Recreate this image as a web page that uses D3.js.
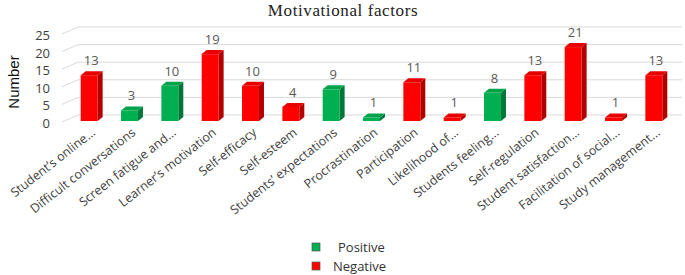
<!DOCTYPE html>
<meta charset="utf-8">
<script src="https://d3js.org/d3.v7.min.js"></script>
<style>
  body { margin: 0; background: #fff; }
  text { font-family: "Open Sans", sans-serif; }
</style>
<div id="chart"></div>
<script>

// data
var categories = ["Student\u2019s online...", "Difficult conversations", "Screen fatigue and...",
  "Learner\u2019s motivation", "Self-efficacy", "Self-esteem", "Students\u2019 expectations",
  "Procrastination", "Participation", "Likelihood of...", "Students feeling...",
  "Self-regulation", "Student satisfaction...", "Facilitation of social...", "Study management..."];
var values = [13, 3, 10, 19, 10, 4, 9, 1, 11, 1, 8, 13, 21, 1, 13];
var kinds = ["Negative", "Positive", "Positive", "Negative", "Negative", "Negative", "Positive",
  "Positive", "Negative", "Negative", "Positive", "Negative", "Negative", "Negative", "Negative"];
var yTicks = [0, 5, 10, 15, 20, 25];
var legendItems = ["Positive", "Negative"];

var W = 685, H = 275;
var depthX = 5, depthY = -4;

var svg = d3.select("#chart").append("svg")
  .attr("width", W).attr("height", H);

var colors = {
  Positive: {front: "#00b050", side: "#00773a", top: "#00a24a"},
  Negative: {front: "#ff0000", side: "#b00000", top: "#e60000"}
};

var x = d3.scaleBand()
  .domain(categories)
  .range([69, 674])
  .paddingInner(0.58)
  .paddingOuter(0.29);

var y = d3.scaleLinear()
  .domain([0, 25])
  .range([121, 33]);

// title
svg.append("text")
  .attr("x", 343).attr("y", 16)
  .attr("text-anchor", "middle")
  .style("font-family", "'Liberation Serif', serif")
  .style("font-size", "17px")
  .style("letter-spacing", "0.6px")
  .attr("fill", "#222")
  .text("Motivational  factors");

// back wall gridlines with perspective stub
var grid = svg.append("g");
yTicks.forEach(function(t) {
  grid.append("path")
    .attr("d", "M62," + (y(t) + 1) + "L78," + (y(t) - 6) + "L682," + (y(t) - 6))
    .attr("fill", "none")
    .attr("stroke", "#d9d9d9")
    .attr("stroke-width", 1);
});

// y tick labels
svg.append("g").selectAll("text")
  .data(yTicks).enter().append("text")
  .attr("x", 50)
  .attr("y", function(d) { return y(d) + 2.5; })
  .attr("dy", "0.35em")
  .attr("text-anchor", "end")
  .style("font-size", "13px")
  .attr("fill", "#404040")
  .text(function(d) { return d; });

// y axis title
svg.append("text")
  .attr("transform", "translate(19,82) rotate(-90)")
  .attr("text-anchor", "middle")
  .style("font-family", "'Liberation Sans Narrow', 'Liberation Sans', sans-serif")
  .style("font-size", "15px")
  .attr("fill", "#111")
  .text("Number");

// bars
var bars = svg.append("g").selectAll("g")
  .data(categories).enter().append("g");

bars.each(function(c, i) {
  var g = d3.select(this);
  var x0 = x(c), x1 = x(c) + x.bandwidth();
  var top = y(values[i]), base = y(0);
  var col = colors[kinds[i]];
  g.append("path")
    .attr("d", "M" + x1 + "," + top + "L" + (x1 + depthX) + "," + (top + depthY) +
      "L" + (x1 + depthX) + "," + (base + depthY) + "L" + x1 + "," + base + "Z")
    .attr("fill", col.side);
  g.append("path")
    .attr("d", "M" + x0 + "," + top + "L" + (x0 + depthX) + "," + (top + depthY) +
      "L" + (x1 + depthX) + "," + (top + depthY) + "L" + x1 + "," + top + "Z")
    .attr("fill", col.top);
  g.append("rect")
    .attr("x", x0).attr("y", top)
    .attr("width", x.bandwidth())
    .attr("height", base - top)
    .attr("fill", col.front);
  g.append("text")
    .attr("x", x0 + x.bandwidth() / 2 + 2)
    .attr("y", top - 10)
    .attr("text-anchor", "middle")
    .style("font-size", "13px")
    .attr("fill", "#595959")
    .text(values[i]);
});

// category labels
svg.append("g").selectAll("text")
  .data(categories).enter().append("text")
  .attr("transform", function(d) {
    return "translate(" + (x(d) + x.bandwidth() / 2 + 7) + ",134) rotate(-38)";
  })
  .attr("text-anchor", "end")
  .style("font-size", "12.5px")
  .attr("fill", "#404040")
  .text(function(d) { return d; });

// legend
var legX = [338, 333];
legendItems.forEach(function(k, i) {
  var ly = 247 + i * 19;
  svg.append("rect")
    .attr("x", 312).attr("y", ly - 4)
    .attr("width", 8).attr("height", 8)
    .attr("fill", colors[k].front)
    .attr("stroke", "#555").attr("stroke-width", 0.7);
  svg.append("text")
    .attr("x", legX[i]).attr("y", ly)
    .attr("dy", "0.35em")
    .style("font-size", "13px")
    .attr("fill", "#333")
    .text(k);
});

</script>
